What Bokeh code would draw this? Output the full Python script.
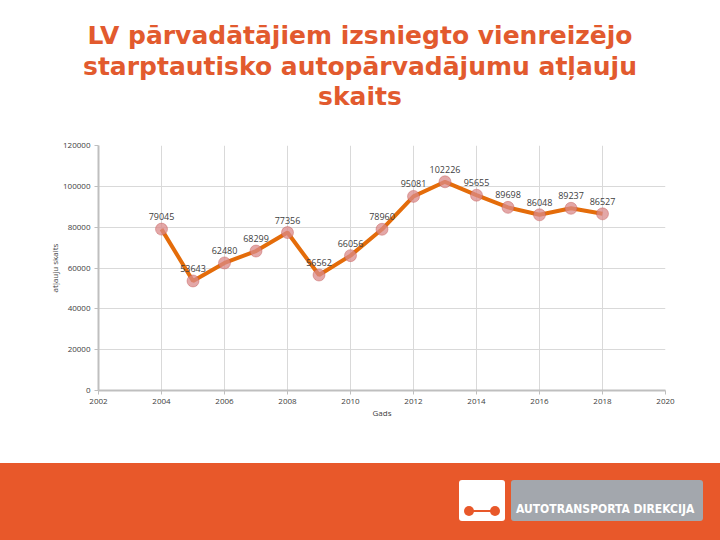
from bokeh.plotting import figure
from bokeh.models import Div, ColumnDataSource, FixedTicker, BasicTickFormatter
from bokeh.layouts import column
from bokeh.embed import file_html
from bokeh.resources import INLINE
from bokeh.core.properties import value

years = [2004, 2005, 2006, 2007, 2008, 2009, 2010, 2011, 2012, 2013, 2014, 2015, 2016, 2017, 2018]
permits = [79045, 53643, 62480, 68299, 77356, 56562, 66056, 78960, 95081, 102226, 95655, 89698, 86048, 89237, 86527]
labels = ["79045", "53643", "62480", "68299", "77356", "56562", "66056", "78960", "95081", "102226", "95655", "89698", "86048", "89237", "86527"]
x_ticks = [2002, 2004, 2006, 2008, 2010, 2012, 2014, 2016, 2018, 2020]
y_ticks = [0, 20000, 40000, 60000, 80000, 100000, 120000]

title_text = "LV pārvadātājiem izsniegto vienreizējo<br>starptautisko autopārvadājumu atļauju<br>skaits"
title_color = "#E25A2E"
orange = "#E8582A"

title = Div(text=title_text, width=720, height=125, margin=0,
            styles={"color": title_color, "font-family": "DejaVu Sans", "font-weight": "bold",
                    "font-size": "25px", "line-height": "30.5px", "text-align": "center",
                    "width": "720px", "padding-top": "21px", "box-sizing": "border-box"})

src = ColumnDataSource(dict(x=years, y=permits, t=labels))

p = figure(width=720, height=338, output_backend="svg", toolbar_location=None,
           x_range=(2002, 2020), y_range=(0, 120000), margin=0,
           min_border_left=98, min_border_right=55, min_border_top=20, min_border_bottom=73)
p.outline_line_color = None
p.xaxis.ticker = FixedTicker(ticks=x_ticks)
p.yaxis.ticker = FixedTicker(ticks=y_ticks)
p.yaxis.formatter = BasicTickFormatter(use_scientific=False)
for ax in (p.xaxis[0], p.yaxis[0]):
    ax.axis_line_color = "#BFBFBF"
    ax.axis_line_width = 2
    ax.major_tick_line_color = "#BFBFBF"
    ax.major_tick_out = 4
    ax.major_tick_in = 0
    ax.minor_tick_line_color = None
    ax.major_label_text_font = "Open Sans"
    ax.major_label_text_font_size = "8px"
    ax.major_label_text_color = "#404040"
    ax.axis_label_text_font = "Open Sans"
    ax.axis_label_text_font_size = "8px"
    ax.axis_label_text_font_style = "normal"
    ax.axis_label_text_color = "#404040"
p.xaxis.axis_label = "Gads"
p.xaxis.axis_label_standoff = 0
p.xaxis.major_label_standoff = 4
p.yaxis.axis_label = "atļauju skaits"
p.yaxis.axis_label_standoff = 0
p.yaxis.major_label_standoff = 4
p.grid.grid_line_color = "#D9D9D9"
p.grid.grid_line_width = 1

p.line("x", "y", source=src, line_color="#E46C0A", line_width=4)
p.scatter("x", "y", source=src, size=12, fill_color="#D98A8A", fill_alpha=0.75,
          line_color="#C0504D", line_alpha=0.4, line_width=1)
p.text("x", "y", text="t", source=src, y_offset=-9, text_align="center", text_baseline="bottom",
       text_font=value("Open Sans"), text_font_size="9px", text_color="#404040")

footer_html = (
    '<div style="position:relative;width:720px;height:77px;background:%s;">'
    '<div style="position:absolute;left:459px;top:17px;width:46px;height:41px;background:#FFFFFF;border-radius:3px;">'
    '<div style="position:absolute;left:8px;top:30px;width:30px;height:2px;background:%s;"></div>'
    '<div style="position:absolute;left:5px;top:26px;width:10px;height:10px;border-radius:5px;background:%s;"></div>'
    '<div style="position:absolute;left:31px;top:26px;width:10px;height:10px;border-radius:5px;background:%s;"></div>'
    '</div>'
    '<div style="position:absolute;left:511px;top:17px;width:192px;height:41px;background:#A3A7AD;border-radius:3px;">'
    '<div style="position:absolute;left:5px;top:22px;color:#FFFFFF;font-family:\'DejaVu Sans Condensed\',\'DejaVu Sans\';font-weight:bold;font-size:12px;line-height:14px;white-space:nowrap;">AUTOTRANSPORTA DIREKCIJA</div>'
    '</div></div>'
) % (orange, orange, orange, orange)
footer = Div(text=footer_html, width=720, height=77, margin=0)

layout = column(title, p, footer, spacing=0, margin=0)
open("out.html", "w").write(file_html(layout, INLINE))
